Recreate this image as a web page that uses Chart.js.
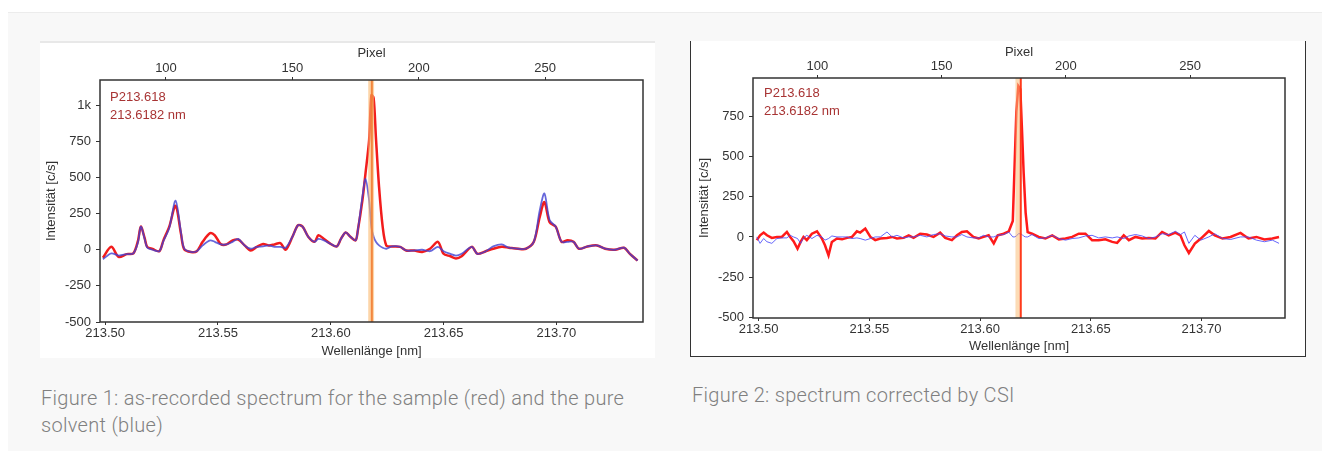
<!DOCTYPE html>
<html>
<head>
<meta charset="utf-8">
<script src="https://cdn.jsdelivr.net/npm/chart.js@4.4.1/dist/chart.umd.min.js"></script>
<style>
  body { margin: 0; background: #fff; width: 1322px; height: 451px; overflow: hidden; position: relative; }
  #panel { position: absolute; left: 8px; top: 12px; right: 0; bottom: 0; background: #f8f8f8; border-top: 1px solid #ececec; }
  .fig { position: absolute; background: #fff; }
  #fig1 { left: 40px; top: 41px; width: 615px; height: 317px; border-top: 2px solid #e8e8e8; box-sizing: border-box; }
  #fig2 { left: 690px; top: 41px; width: 616px; height: 316px; border: 1px solid #333; border-top: none; box-sizing: border-box; }
  canvas { position: absolute; }
  #c1 { left: 40px; top: 41px; }
  #c2 { left: 690px; top: 41px; }
  .cap { position: absolute; font-family: Roboto, sans-serif; font-weight: 300; font-size: 20px; letter-spacing: 0.3px; line-height: 27px; color: #808080; }
  #cap1 { left: 41px; top: 385px; width: 610px; }
  #cap2 { left: 692px; top: 382px; width: 600px; }
</style>
</head>
<body>
<div id="panel"></div>
<div class="fig" id="fig1"></div>
<div class="fig" id="fig2"></div>
<canvas id="c1" width="615" height="317"></canvas>
<canvas id="c2" width="616" height="315"></canvas>
<div class="cap" id="cap1">Figure 1: as-recorded spectrum for the sample (red) and the pure solvent (blue)</div>
<div class="cap" id="cap2">Figure 2: spectrum corrected by CSI</div>
<script>
// Figure 1: as recorded
const wl1 = [213.4990, 213.5027, 213.5060, 213.5095, 213.5125, 213.5145, 213.5158, 213.5175, 213.5186, 213.5210,
  213.5240, 213.5258, 213.5284, 213.5312, 213.5336, 213.5350, 213.5380, 213.5406, 213.5432, 213.5465,
  213.5486, 213.5512, 213.5538, 213.5565, 213.5590, 213.5618, 213.5645, 213.5672, 213.5700, 213.5725,
  213.5750, 213.5777, 213.5800, 213.5830, 213.5855, 213.5875, 213.5900, 213.5928, 213.5945, 213.5970,
  213.6000, 213.6027, 213.6045, 213.6066, 213.6087, 213.6110, 213.6120, 213.6140, 213.6154, 213.6170,
  213.6180, 213.6190, 213.6200, 213.6214, 213.6230, 213.6246, 213.6270, 213.6308, 213.6334, 213.6370,
  213.6405, 213.6440, 213.6475, 213.6500, 213.6530, 213.6555, 213.6580, 213.6625, 213.6650, 213.6687,
  213.6720, 213.6758, 213.6790, 213.6830, 213.6865, 213.6900, 213.6926, 213.6947, 213.6970, 213.6997,
  213.7023, 213.7050, 213.7076, 213.7100, 213.7138, 213.7180, 213.7216, 213.7260, 213.7300, 213.7326, 213.7360];
const sample1 = [-55, 20, -50, -30, -25, 60, 160, 80, 20, 5,
  -10, 65, 160, 305, 110, 5, -15, -10, 55, 115,
  100, 40, 37, 65, 70, 30, -5, 20, 40, 30,
  37, 46, 0, 90, 170, 160, 90, 55, 100, 75,
  40, 23, 75, 120, 90, 65, 135, 340, 530, 760,
  1070, 1050, 780, 435, 160, 30, 23, 20, -5, -5,
  -15, 7, 55, -28, -45, -60, -45, 20, -28, -10,
  7, 20, 14, 7, 7, 55, 225, 330, 190, 160,
  55, 65, 55, 7, 23, 30, 7, 0, 14, -28, -75];
const solvent1 = [-65, -25, -40, -30, -25, 50, 160, 75, 15, 0,
  -10, 60, 150, 340, 120, 10, -15, -10, 30, 65,
  55, 37, 37, 55, 75, 30, 7, 20, 23, 30,
  20, 20, 14, 90, 170, 160, 90, 55, 75, 65,
  40, 23, 75, 120, 90, 65, 135, 365, 490, 340,
  155, 90, 55, 30, 14, 7, 23, 20, -5, -5,
  0, -10, 20, -10, -28, -40, -28, 20, -28, -10,
  23, 37, 14, 7, 7, 55, 270, 390, 205, 160,
  55, 55, 55, 7, 23, 30, 7, 0, 14, -28, -75];

// Figure 2: corrected by CSI
const wl2 = [213.4992, 213.5007, 213.5023, 213.5038, 213.5060, 213.5083, 213.5105, 213.5128, 213.5143, 213.5158,
  213.5176, 213.5190, 213.5203, 213.5218, 213.5241, 213.5264, 213.5286, 213.5300, 213.5316, 213.5331,
  213.5354, 213.5377, 213.5400, 213.5422, 213.5444, 213.5459, 213.5482, 213.5505, 213.5527, 213.5550,
  213.5580, 213.5603, 213.5625, 213.5655, 213.5678, 213.5700, 213.5730, 213.5760, 213.5790, 213.5820,
  213.5843, 213.5873, 213.5896, 213.5918, 213.5941, 213.5970, 213.5994, 213.6016, 213.6039, 213.6062,
  213.6080, 213.6107, 213.6130, 213.6148, 213.6155, 213.6164, 213.6173, 213.6182, 213.6190, 213.6197,
  213.6206, 213.6215, 213.6235, 213.6265, 213.6295, 213.6326, 213.6356, 213.6386, 213.6416, 213.6446,
  213.6476, 213.6506, 213.6536, 213.6566, 213.6597, 213.6619, 213.6649, 213.6672, 213.6702, 213.6732,
  213.6762, 213.6792, 213.6822, 213.6852, 213.6882, 213.6905, 213.6923, 213.6943, 213.6970, 213.6997,
  213.7033, 213.7060, 213.7095, 213.7131, 213.7176, 213.7212, 213.7248, 213.7284, 213.7320, 213.7350];
const sample2 = [-20, 10, 27, 10, -6, 0, 0, 31, 0, -27,
  -73, -31, 0, -20, 20, 35, -10, -52, -115, -31,
  -10, -15, -6, 0, 35, 27, 52, 0, -20, -10,
  -6, 0, -10, -6, 10, -6, 20, 15, 0, 27,
  -6, -20, 10, 31, 35, 0, -10, 0, 10, -40,
  10, 20, 35, 100, 400, 780, 940, 920, 650, 400,
  150, 30, 20, 0, -10, 10, -15, -10, 0, 20,
  20, -20, -20, -15, -31, -37, 10, -20, 0, -10,
  -6, -10, 31, 10, 27, 10, -52, -100, -42, -10,
  37, 10, -10, 0, 25, -10, 0, -16, -10, 0];
const solvent2 = [0, -40, -10, -30, -40, -10, -6, -6, 10, 0,
  -10, -40, -6, 10, -10, 10, 0, -20, -10, 6,
  0, 0, 0, -10, -6, -10, -20, -10, 0, 0,
  31, 0, 10, -6, 0, 0, 10, 0, 15, 20,
  6, 0, 0, 15, 0, -6, -6, 10, 0, 0,
  10, 15, 30, 0, 0, 5, 20, 20, 15, 5,
  0, 0, 15, -10, -6, 10, -10, -20, -10, -6,
  6, 10, -6, 0, -6, 0, -10, 6, 15, 6,
  -10, 0, 20, 15, 35, 15, 31, -40, 10, -20,
  0, 20, -10, -16, 0, 0, -20, -30, -20, -40];

const wlTicks = [213.50, 213.55, 213.60, 213.65, 213.70];
const pixelTicks = [100, 150, 200, 250];
const yTicks1 = [-500, -250, 0, 250, 500, 750, 1000];
const yTicks2 = [-500, -250, 0, 250, 500, 750];
const peakName = 'P213.618';
const peakLabel = '213.6182 nm';

const txt = '#333';
const fontTick = { family: 'Liberation Sans, Arial, sans-serif', size: 13 };

function points(xs, ys) {
  return xs.map((x, i) => ({ x: x, y: ys[i] }));
}

// light orange band with the line of the selected peak
const bandPlugin = {
  id: 'band',
  afterDatasetsDraw(chart, args, o) {
    const { ctx, chartArea: a, scales } = chart;
    const x0 = scales.x.getPixelForValue(o.lo);
    const x1 = scales.x.getPixelForValue(o.hi);
    const xl = scales.x.getPixelForValue(o.line);
    ctx.save();
    ctx.fillStyle = o.fill;
    ctx.fillRect(x0, a.top, x1 - x0, a.bottom - a.top);
    ctx.strokeStyle = o.lineColor;
    ctx.lineWidth = 2;
    ctx.beginPath();
    ctx.moveTo(xl, a.top);
    ctx.lineTo(xl, a.bottom);
    ctx.stroke();
    ctx.restore();
  }
};

const framePlugin = {
  id: 'frame',
  afterDraw(chart, args, o) {
    const { ctx, chartArea: a } = chart;
    ctx.save();
    ctx.strokeStyle = '#333';
    ctx.lineWidth = 1.5;
    ctx.strokeRect(a.left, a.top, a.right - a.left, a.bottom - a.top);
    ctx.fillStyle = '#a83434';
    ctx.font = '13px Liberation Sans, Arial, sans-serif';
    ctx.textBaseline = 'middle';
    ctx.fillText(peakName, a.left + o.dx, a.top + o.dy);
    ctx.fillText(peakLabel, a.left + o.dx, a.top + o.dy + 18);
    ctx.restore();
  }
};

function buildChart(id, d) {
  return new Chart(document.getElementById(id), {
    type: 'line',
    data: {
      datasets: [{
        label: 'Probe',
        data: points(d.wl, d.sample),
        borderColor: d.redColor,
        borderWidth: d.redWidth,
        pointRadius: 0,
        tension: d.tension,
        order: 1
      }, {
        label: 'Lösungsmittel',
        data: points(d.wl, d.solvent),
        borderColor: d.blueColor,
        borderWidth: d.blueWidth,
        pointRadius: 0,
        tension: d.tension,
        order: 0
      }]
    },
    options: {
      responsive: false,
      animation: false,
      layout: { padding: { left: 0, right: d.padRight, top: 0, bottom: 0 } },
      plugins: {
        legend: { display: false },
        tooltip: { enabled: false },
        band: d.band,
        frame: d.label
      },
      scales: {
        x: {
          type: 'linear',
          position: 'bottom',
          min: d.wlRange[0],
          max: d.wlRange[1],
          afterBuildTicks: s => { s.ticks = wlTicks.map(v => ({ value: v })); },
          afterFit: s => { s.height = d.bottomH; },
          ticks: { color: txt, font: fontTick, padding: 1, maxRotation: 0, autoSkip: false, callback: v => v.toFixed(2) },
          grid: { drawOnChartArea: false, tickLength: 3, color: '#333' },
          border: { display: false },
          title: { display: true, text: 'Wellenlänge [nm]', color: txt, font: { family: fontTick.family, size: 13, lineHeight: 1 }, padding: { top: 0, bottom: d.bottomTitlePad } }
        },
        x2: {
          type: 'linear',
          position: 'top',
          min: d.pixelRange[0],
          max: d.pixelRange[1],
          afterBuildTicks: s => { s.ticks = pixelTicks.map(v => ({ value: v })); },
          afterFit: s => { s.height = d.topH; },
          ticks: { color: txt, font: fontTick, padding: 1, maxRotation: 0, autoSkip: false },
          grid: { drawOnChartArea: false, tickLength: 3, color: '#333' },
          border: { display: false },
          title: { display: true, text: 'Pixel', color: txt, font: { family: fontTick.family, size: 13, lineHeight: 1 }, padding: { top: d.topTitlePad, bottom: 0 } }
        },
        y: {
          type: 'linear',
          min: d.yRange[0],
          max: d.yRange[1],
          afterBuildTicks: s => { s.ticks = d.yTicks.map(v => ({ value: v })); },
          afterFit: s => { s.width = d.leftW; },
          ticks: { color: txt, font: fontTick, padding: 5, autoSkip: false, callback: v => (v === 1000 ? '1k' : v) },
          grid: { drawOnChartArea: false, tickLength: 4, color: '#333' },
          border: { display: false },
          title: { display: true, text: 'Intensität [c/s]', color: txt, font: { family: fontTick.family, size: 13, lineHeight: 1 }, padding: { top: d.leftTitlePad, bottom: 0 } }
        }
      }
    },
    plugins: [bandPlugin, framePlugin]
  });
}

const chart1 = buildChart('c1', {
  wl: wl1, sample: sample1, solvent: solvent1,
  redColor: '#f21c1c', redWidth: 2.5, blueColor: 'rgba(65,65,210,0.8)', blueWidth: 1.8, tension: 0.3,
  wlRange: [213.4977, 213.7384], pixelRange: [73.9, 288.7], yRange: [-500, 1175], yTicks: yTicks1,
  padRight: 12, bottomH: 36, topH: 39, leftW: 60,
  bottomTitlePad: 0, topTitlePad: 6, leftTitlePad: 5,
  band: { lo: 213.6166, hi: 213.6192, line: 213.6182, fill: 'rgba(250,185,110,0.6)', lineColor: 'rgba(242,125,50,0.9)' },
  label: { dx: 10, dy: 17 }
});

const chart2 = buildChart('c2', {
  wl: wl2, sample: sample2, solvent: solvent2,
  redColor: '#ff1a1a', redWidth: 2.5, blueColor: 'rgba(75,75,250,0.85)', blueWidth: 1, tension: 0,
  wlRange: [213.4975, 213.7377], pixelRange: [74.1, 288.2], yRange: [-505, 990], yTicks: yTicks2,
  padRight: 21, bottomH: 38, topH: 37, leftW: 63,
  bottomTitlePad: 3, topTitlePad: 5, leftTitlePad: 8,
  band: { lo: 213.6160, hi: 213.6186, line: 213.6184, fill: 'rgba(250,190,120,0.55)', lineColor: 'rgba(255,50,20,0.95)' },
  label: { dx: 11, dy: 15 }
});
</script>
</body>
</html>
